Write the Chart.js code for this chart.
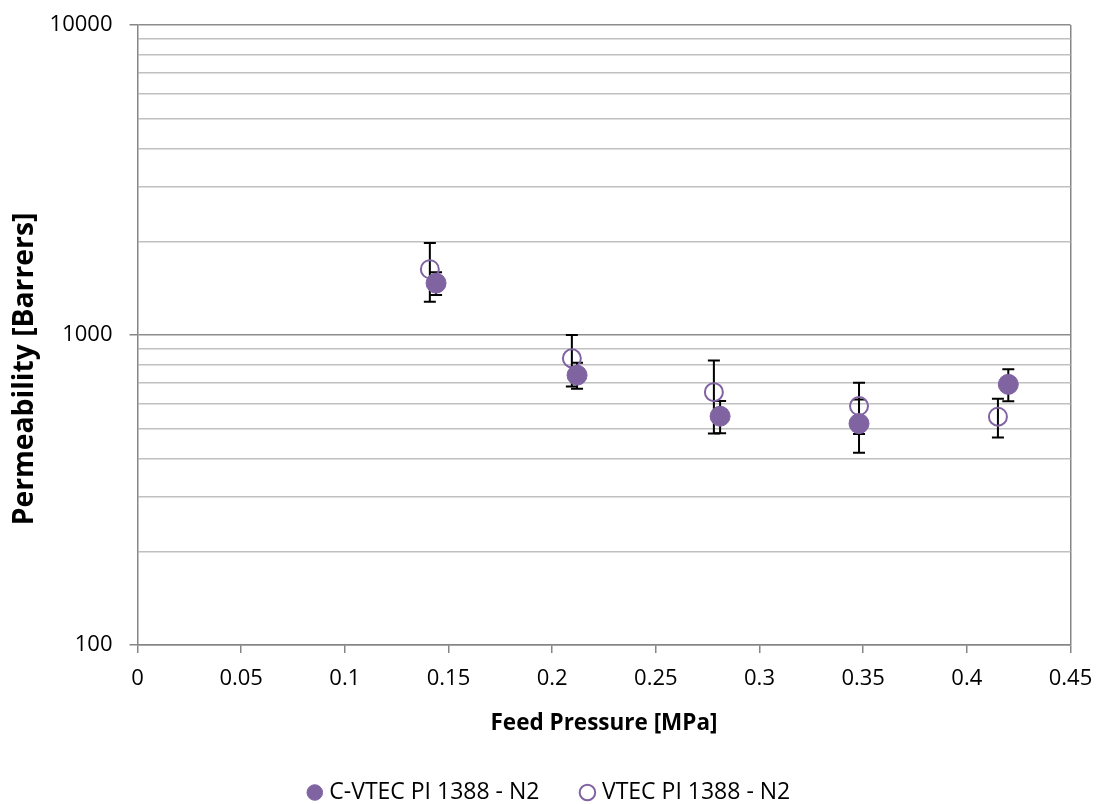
<!DOCTYPE html>
<html>
<head>
<meta charset="utf-8">
<script src="https://cdn.jsdelivr.net/npm/chart.js@4.4.0/dist/chart.umd.min.js"></script>
<style>
  html, body { margin: 0; padding: 0; background: #ffffff; }
  #wrap { width: 1099px; height: 804px; }
</style>
</head>
<body>
<div id="wrap"><canvas id="permChart" width="1099" height="804"></canvas></div>
<script>
// feed pressure [MPa] and permeability [Barrers]
const pressureCVTEC = [0.144, 0.212, 0.281, 0.348, 0.420];
const permCVTEC = [1470, 742, 547, 518, 693];
const errCVTEC = [125, 71, 65, 101, 82];

const pressureVTEC = [0.141, 0.2095, 0.278, 0.348, 0.415];
const permVTEC = [1630, 841, 654, 590, 545];
const errVTEC = [350, 159, 173, 111, 78];

const seriesNames = ['C-VTEC PI 1388 - N2', 'VTEC PI 1388 - N2'];

const xTicks = [0, 0.05, 0.1, 0.15, 0.2, 0.25, 0.3, 0.35, 0.4, 0.45];
const yMajorTicks = [100, 1000, 10000];
const yGridValues = [100, 200, 300, 400, 500, 600, 700, 800, 900,
                     1000, 2000, 3000, 4000, 5000, 6000, 7000, 8000, 9000, 10000];

const purple = '#8064A2';
const axisGray = '#868686';
const FONT = '"Open Sans", "DejaVu Sans", sans-serif';

function toPoints(xs, ys) {
    return xs.map((v, i) => ({ x: v, y: ys[i] }));
}

// error bars drawn under the markers
const errorBars = {
    id: 'errorBars',
    beforeDatasetsDraw(chart) {
        const { ctx, scales: { x, y } } = chart;
        const errs = [errCVTEC, errVTEC];
        ctx.save();
        ctx.strokeStyle = '#000000';
        ctx.lineWidth = 2;
        chart.data.datasets.forEach((ds, d) => {
            ds.data.forEach((p, i) => {
                const px = x.getPixelForValue(p.x);
                const top = y.getPixelForValue(p.y + errs[d][i]);
                const bot = y.getPixelForValue(p.y - errs[d][i]);
                ctx.beginPath();
                ctx.moveTo(px, top);
                ctx.lineTo(px, bot);
                ctx.moveTo(px - 6, top);
                ctx.lineTo(px + 6, top);
                ctx.moveTo(px - 6, bot);
                ctx.lineTo(px + 6, bot);
                ctx.stroke();
            });
        });
        ctx.restore();
    }
};

// y axis title, placed like the original (a bit below the plot centre)
const yTitle = {
    id: 'yTitle',
    afterDraw(chart) {
        const ctx = chart.ctx;
        ctx.save();
        ctx.translate(25, 369);
        ctx.rotate(-Math.PI / 2);
        ctx.font = 'bold 28.3px ' + FONT;
        ctx.fillStyle = '#000000';
        ctx.textAlign = 'center';
        ctx.textBaseline = 'middle';
        ctx.fillText('Permeability [Barrers]', 0, 0);
        ctx.restore();
    }
};

// legend in the original sits a little right of the canvas centre
const legendShift = {
    id: 'legendShift',
    afterLayout(chart) {
        chart.legend.left = 31.5;
    }
};

const ctxChart = document.getElementById('permChart').getContext('2d');
const chart = new Chart(ctxChart, {
    type: 'scatter',
    data: {
        datasets: [{
            label: seriesNames[0],
            data: toPoints(pressureCVTEC, permCVTEC),
            backgroundColor: purple,
            borderColor: purple,
            borderWidth: 1,
            pointRadius: 10,
            pointHoverRadius: 10,
            pointStyle: 'circle'
        }, {
            label: seriesNames[1],
            data: toPoints(pressureVTEC, permVTEC),
            backgroundColor: 'rgba(0,0,0,0)',
            borderColor: purple,
            borderWidth: 2,
            pointRadius: 9,
            pointHoverRadius: 9,
            pointStyle: 'circle'
        }]
    },
    options: {
        responsive: false,
        animation: false,
        layout: { padding: { left: 0, right: 28.5, top: 25, bottom: 0 } },
        scales: {
            x: {
                type: 'linear',
                min: 0,
                max: 0.45,
                afterBuildTicks: (scale) => { scale.ticks = xTicks.map(v => ({ value: v })); },
                afterFit: (scale) => { scale.height = 91; },
                ticks: {
                    font: { family: FONT, size: 22, lineHeight: 1.86 },
                    color: '#000000',
                    padding: 5,
                    maxRotation: 0,
                    callback: (v) => String(Number(v.toFixed(2)))
                },
                grid: {
                    drawOnChartArea: true,
                    color: (c) => (c.tick && Math.abs(c.tick.value - 0.45) < 1e-9) ? axisGray : 'rgba(0,0,0,0)',
                    lineWidth: 1.5,
                    tickColor: axisGray,
                    tickLength: 8
                },
                border: { color: axisGray, width: 1.5 },
                title: {
                    display: true,
                    text: 'Feed Pressure [MPa]',
                    color: '#000000',
                    font: { family: FONT, size: 22.5, weight: 'bold', lineHeight: 1 },
                    padding: { top: 0, bottom: 1 }
                }
            },
            y: {
                type: 'logarithmic',
                min: 100,
                max: 10000,
                afterBuildTicks: (scale) => { scale.ticks = yGridValues.map(v => ({ value: v })); },
                afterFit: (scale) => { scale.width = 137.5; },
                ticks: {
                    font: { family: FONT, size: 22, lineHeight: 0.5 },
                    color: '#000000',
                    padding: 17,
                    autoSkip: false,
                    callback: (v) => yMajorTicks.includes(v) ? String(v) : ''
                },
                grid: {
                    color: (c) => (c.tick && yMajorTicks.includes(c.tick.value)) ? '#8C8C8C' : '#C0C0C0',
                    lineWidth: 1.5,
                    tickColor: (c) => (c.tick && yMajorTicks.includes(c.tick.value)) ? axisGray : 'rgba(0,0,0,0)',
                    tickLength: 8
                },
                border: { color: axisGray, width: 1.5 }
            }
        },
        plugins: {
            legend: {
                position: 'bottom',
                maxHeight: 68,
                labels: {
                    usePointStyle: true,
                    boxWidth: 6,
                    boxHeight: 11,
                    padding: 45,
                    color: '#000000',
                    font: { family: FONT, size: 23 }
                }
            },
            tooltip: { enabled: false }
        }
    },
    plugins: [errorBars, yTitle, legendShift]
});
</script>
</body>
</html>
